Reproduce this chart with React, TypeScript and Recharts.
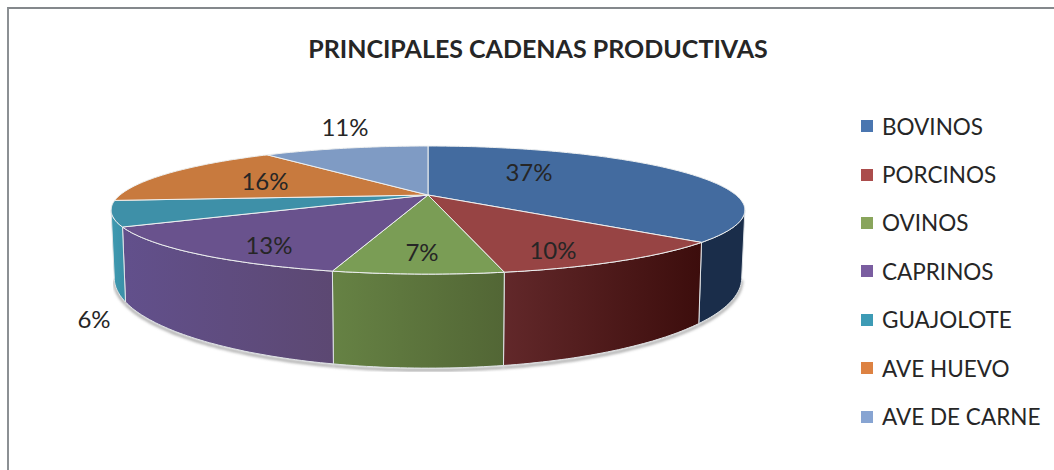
import React from 'react';
import { PieChart, Pie, Legend } from 'recharts';

const TITLE = 'PRINCIPALES CADENAS PRODUCTIVAS';
const CATEGORIES = ['BOVINOS', 'PORCINOS', 'OVINOS', 'CAPRINOS', 'GUAJOLOTE', 'AVE HUEVO', 'AVE DE CARNE'];
const VALUES = [36.5, 10.45, 6.9, 13.35, 6.4, 15.8, 10.6];
const TOP_COLORS = ['#436b9f', '#974444', '#7a9d55', '#69528d', '#3e90a8', '#c87a3e', '#7f9bc4'];
const LEGEND_COLORS = ['#4a76b0', '#ab4d4c', '#89a55c', '#7a5da0', '#3d9bb5', '#dd8242', '#87a4d2'];
const WALL_LEFT = ['#1a2d4a', '#62282a', '#668244', '#62508c', '#3f9ab0', '#8a5228', '#5a7090'];
const WALL_RIGHT = ['#1a2d4a', '#3c0d0c', '#526635', '#5c4872', '#3a90a8', '#8a5228', '#5a7090'];
const LABEL_OFFSETS = [[101, -24], [125, 54], [-6, 56], [-159, 49], [-334, 123], [-163, -15], [-83, -69]];

const data = CATEGORIES.map((name, i) => ({ name, value: VALUES[i], fill: LEGEND_COLORS[i] }));

const CX = 428;
const CY = 195;
const PERSPECTIVE = -0.235;
const FRONT_LIMIT = 103.6;

function project(theta: number, cx: number, cy: number, b: number, a: number) {
  const r = (theta * Math.PI) / 180;
  const x = Math.sin(r);
  const y = -Math.cos(r);
  const w = 1 + PERSPECTIVE * y;
  return [cx + (b * x) / w, cy + (a * y) / w];
}

function arc(t1: number, t2: number, cx: number, cy: number, b: number, a: number) {
  const pts: number[][] = [];
  const n = Math.max(2, Math.ceil(Math.abs(t2 - t1)));
  for (let i = 0; i <= n; i++) pts.push(project(t1 + ((t2 - t1) * i) / n, cx, cy, b, a));
  return pts;
}

const toPath = (pts: number[][]) => pts.map((p, i) => `${i ? 'L' : 'M'}${p[0].toFixed(1)},${p[1].toFixed(1)}`).join(' ');

function Slice3D(props: any) {
  const { cx, cy, startAngle, endAngle, outerRadius, name } = props;
  const i = CATEGORIES.indexOf(name);
  const t1 = 90 - startAngle;
  const t2 = 90 - endAngle;
  const b = outerRadius;
  const a = outerRadius * 0.1964;
  const b2 = outerRadius * 0.99;
  const a2 = outerRadius * 0.276;
  const cy2 = cy + 62;
  const w1 = Math.max(t1, FRONT_LIMIT);
  const w2 = Math.min(t2, 360 - FRONT_LIMIT);
  const hasWall = w2 > w1;
  const top = arc(w1, w2, cx, cy, b, a);
  const bottom = arc(w1, w2, cx, cy2, b2, a2);
  const gid = `wall-${i}`;
  return (
    <g>
      {hasWall && (
        <>
          <defs>
            <linearGradient id={gid} x1="0" y1="0" x2="1" y2="0">
              <stop offset="0" stopColor={WALL_LEFT[i]} />
              <stop offset="1" stopColor={WALL_RIGHT[i]} />
            </linearGradient>
            <filter id={`blur-${i}`} x="-10%" y="-30%" width="120%" height="160%">
              <feGaussianBlur stdDeviation="1.5" />
            </filter>
          </defs>
          <path d={toPath(bottom)} transform="translate(0,2)" fill="none" stroke="#888" strokeWidth={2} filter={`url(#blur-${i})`} />
          <path d={`${toPath(top)} L${toPath(bottom.slice().reverse()).slice(1)} Z`} fill={`url(#${gid})`} stroke="#dfe3e6" strokeWidth={1} />
        </>
      )}
      <path
        d={`M${cx},${cy} ${toPath(arc(t1, t2, cx, cy, b, a)).replace('M', 'L')} Z`}
        fill={TOP_COLORS[i]}
        stroke="#eef0f0"
        strokeWidth={1}
      />
    </g>
  );
}

function renderLabel(props: any) {
  const [dx, dy] = LABEL_OFFSETS[props.index];
  return (
    <text x={CX + dx} y={CY + dy} textAnchor="middle" dominantBaseline="central" fontFamily="Lato" fontSize={24} fill="#262626">
      {`${Math.round(VALUES[props.index])}%`}
    </text>
  );
}

function LegendList({ payload }: any) {
  return (
    <div style={{ display: 'flex', flexDirection: 'column' }}>
      {(payload || []).map((entry: any) => (
        <div key={entry.value} style={{ display: 'flex', alignItems: 'center', height: 48.4, fontFamily: 'Lato', fontSize: 22.5, color: '#262626', whiteSpace: 'nowrap' }}>
          <span style={{ width: 12, height: 12, marginRight: 9, background: entry.color, display: 'inline-block', flexShrink: 0 }} />
          {entry.value}
        </div>
      ))}
    </div>
  );
}

export default function App() {
  return (
    <div style={{ position: 'absolute', left: 0, top: 0, width: 1054, height: 470, background: '#fff', overflow: 'hidden' }}>
      <div style={{ position: 'absolute', left: 7, top: 7, right: 0, bottom: 0, borderTop: '2px solid #84888c', borderLeft: '2px solid #8c9094' }} />
      <PieChart width={1054} height={470} margin={{ top: 0, right: 0, bottom: 0, left: 0 }} style={{ position: 'absolute', left: 0, top: 0 }}>
        <text x={538} y={48} textAnchor="middle" dominantBaseline="central" fontFamily="Lato" fontWeight={700} fontSize={25} fill="#262626">
          {TITLE}
        </text>
        <Pie
          data={data}
          dataKey="value"
          nameKey="name"
          cx={CX}
          cy={CY}
          outerRadius={308}
          startAngle={90}
          endAngle={-270}
          stroke="none"
          isAnimationActive={false}
          labelLine={false}
          label={renderLabel}
          shape={Slice3D}
        />
        <Legend
          layout="vertical"
          itemSorter={null}
          content={<LegendList />}
          wrapperStyle={{ position: 'absolute', left: 861, top: 102, width: 190 }}
        />
      </PieChart>
    </div>
  );
}
